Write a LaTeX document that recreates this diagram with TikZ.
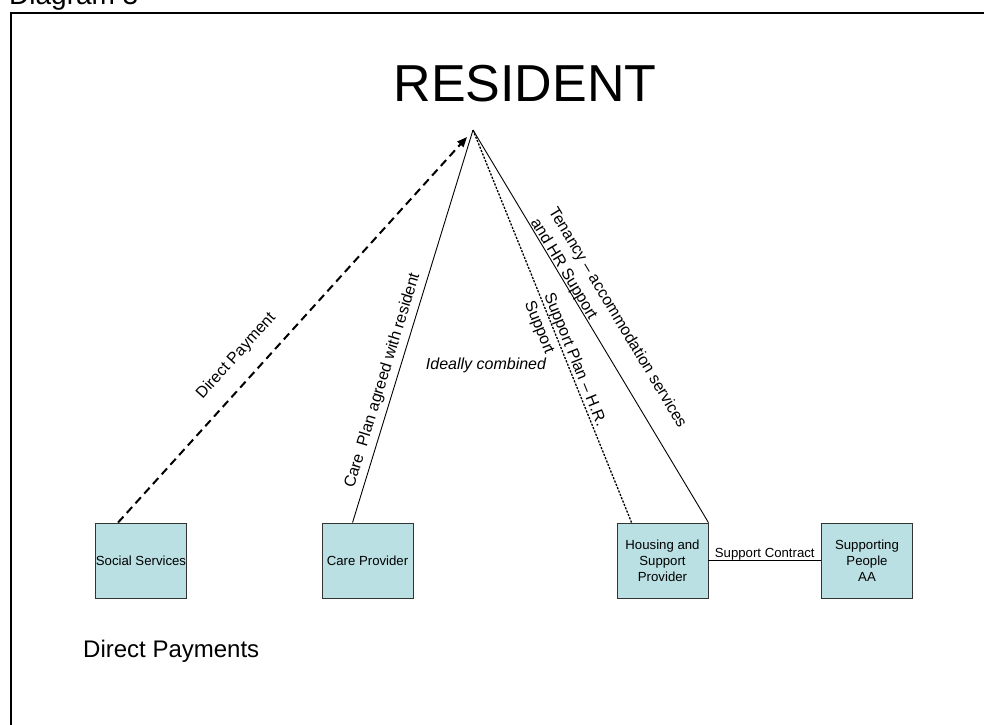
\documentclass[tikz,border=0pt]{standalone}
\usepackage{fontspec}
\setmainfont{Liberation Sans}
\usetikzlibrary{arrows.meta}
\definecolor{boxfill}{HTML}{BBE0E3}

\begin{document}
\begin{tikzpicture}[x=1pt,y=-1pt,
  agency/.style={draw=black!80, line width=0.9pt, fill=boxfill,
    minimum width=91pt, minimum height=75pt, inner sep=0pt, align=center,
    font=\fontsize{13.2}{16}\selectfont},
  link/.style={line width=0.9pt},
  payment/.style={line width=2pt, dash pattern=on 8pt off 5pt,
    -{Triangle[length=10pt,width=8pt]}},
  plan/.style={line width=1.3pt, dash pattern=on 2.2pt off 1.4pt},
  linklabel/.style={sloped, inner sep=0pt, align=left,
    font=\fontsize{16}{21}\selectfont},
  plain/.style={inner sep=0pt}
]
\useasboundingbox (0,0) rectangle (984,724);
\clip (0,0) rectangle (984,724);

% page frame and caption
\node[plain, anchor=base west, font=\fontsize{28}{32}\selectfont] (caption) at (9,4.5) {Diagram 3};
\draw[line width=2pt] (1000,13) -- (11,13) -- (11,740);

% resident and the meeting point of the links
\node[plain, anchor=base, font=\fontsize{52}{60}\selectfont] (resident) at (525,101) {RESIDENT};
\coordinate (apex) at (473,130);
\coordinate (arrowTip) at (467,137);

% the four agencies
\node[agency] (ss)  at (141,560.5)   {Social Services};
\node[agency] (cp)  at (367.5,560.5) {Care Provider};
\node[agency] (hsp) at (662.5,560.5) {Housing and\\Support\\Provider};
\node[agency] (sp)  at (867,560.5)   {Supporting\\People\\AA};

\coordinate (ssTop)  at ([xshift=23pt]ss.north west);
\coordinate (cpTop)  at ([xshift=31pt]cp.north west);
\coordinate (hspTop) at ([xshift=15pt]hsp.north west);

% links to the resident
\draw[payment] (ssTop) -- node[linklabel, pos=0.39, yshift=24pt] {Direct Payment} (arrowTip);
\draw[link] (cpTop) -- node[linklabel, pos=0.352, yshift=12.8pt] {Care\ \ Plan agreed with resident} (apex);
\draw[plan] (apex) -- node[linklabel, pos=0.593, yshift=-2.3pt] {Support Plan -- H.R.\\Support} (hspTop);
\draw[link] (apex) -- node[linklabel, pos=0.514, yshift=16.5pt] {Tenancy -- accommodation services\\and HR Support} (hsp.north east);

\node[plain, font=\itshape\fontsize{16}{19}\selectfont] (combined) at (486,365) {Ideally combined};

% contract between provider and Supporting People
\draw[link] (hsp.east) -- node[plain, midway, anchor=base, yshift=3.5pt, font=\fontsize{13.2}{16}\selectfont] {Support Contract} (sp.west);

\node[plain, anchor=base west, font=\fontsize{24}{28}\selectfont] (dpnote) at (83,657) {Direct Payments};
\end{tikzpicture}
\end{document}
